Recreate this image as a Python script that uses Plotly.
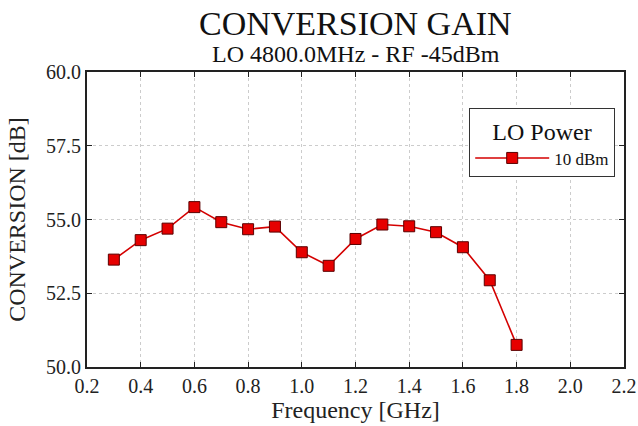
import plotly.graph_objects as go

freq_ghz = [0.3, 0.4, 0.5, 0.6, 0.7, 0.8, 0.9, 1.0, 1.1, 1.2, 1.3, 1.4, 1.5, 1.6, 1.7, 1.8]
conv_db = [53.64, 54.30, 54.69, 55.42, 54.91, 54.67, 54.76, 53.89, 53.43, 54.34, 54.83, 54.77, 54.57, 54.06, 52.94, 50.75]
series_name = "10 dBm"
x_ticks = [0.2, 0.4, 0.6, 0.8, 1.0, 1.2, 1.4, 1.6, 1.8, 2.0, 2.2]
y_ticks = [50.0, 52.5, 55.0, 57.5, 60.0]

SERIF = "Liberation Serif, Times New Roman, serif"

W, H = 638, 426
L, R, T, B = 87, 14, 72, 59
PW, PH = W - L - R, H - T - B


def px_x(px):
    return (px - L) / PW


def px_y(py):
    return 1 - (py - T) / PH


fig = go.Figure()
fig.add_trace(go.Scatter(
    x=freq_ghz, y=conv_db, name=series_name, mode="lines+markers",
    line=dict(color="#d40000", width=1.6),
    marker=dict(symbol="square", size=11, color="#e60000",
                line=dict(color="#5a0000", width=1)),
))

fig.update_layout(
    width=W, height=H,
    margin=dict(l=L, r=R, t=T, b=B),
    paper_bgcolor="white", plot_bgcolor="white",
    font=dict(family=SERIF, color="#222222"),
    showlegend=True,
    legend=dict(
        x=px_x(469), y=px_y(108), xanchor="left", yanchor="top",
        bordercolor="#333333", borderwidth=1.2, bgcolor="white",
        title=dict(text="LO Power", side="top center", font=dict(size=24, family=SERIF, color="#111111")),
        font=dict(size=17, family=SERIF, color="#111111"),
        itemwidth=74,
    ),
    xaxis=dict(
        range=[0.2, 2.2], tickvals=x_ticks, ticktext=[f"{v:.1f}" for v in x_ticks],
        showgrid=True, gridcolor="#cccccc", griddash="dot", gridwidth=1,
        showline=True, linecolor="#222222", linewidth=2, mirror="ticks",
        ticks="inside", ticklen=5, tickcolor="#222222",
        tickfont=dict(size=20, family=SERIF),
        title=dict(text="Frequency [GHz]", font=dict(size=24, family=SERIF), standoff=4),
        automargin=False, zeroline=False,
    ),
    yaxis=dict(
        range=[50.0, 60.0], tickvals=y_ticks, ticktext=[f"{v:.1f}" for v in y_ticks],
        showgrid=True, gridcolor="#cccccc", griddash="dot", gridwidth=1,
        showline=True, linecolor="#222222", linewidth=2, mirror="ticks",
        ticks="inside", ticklen=5, tickcolor="#222222",
        tickfont=dict(size=20, family=SERIF),
        title=dict(text="CONVERSION [dB]", font=dict(size=24, family=SERIF), standoff=14),
        automargin=False, zeroline=False,
    ),
)

fig.add_annotation(text="CONVERSION GAIN", xref="paper", yref="paper",
                   x=0.5, y=px_y(44), xanchor="center", yanchor="bottom", showarrow=False,
                   font=dict(size=34, family=SERIF, color="#111111"))
fig.add_annotation(text="LO 4800.0MHz - RF -45dBm", xref="paper", yref="paper",
                   x=0.5, y=px_y(69), xanchor="center", yanchor="bottom", showarrow=False,
                   font=dict(size=24, family=SERIF, color="#111111"))

# remove the browser's default 8px body margin so the figure fills the window
fig.write_html("out.html", config={"displayModeBar": False},
               post_script="document.body.style.margin='0px';")
